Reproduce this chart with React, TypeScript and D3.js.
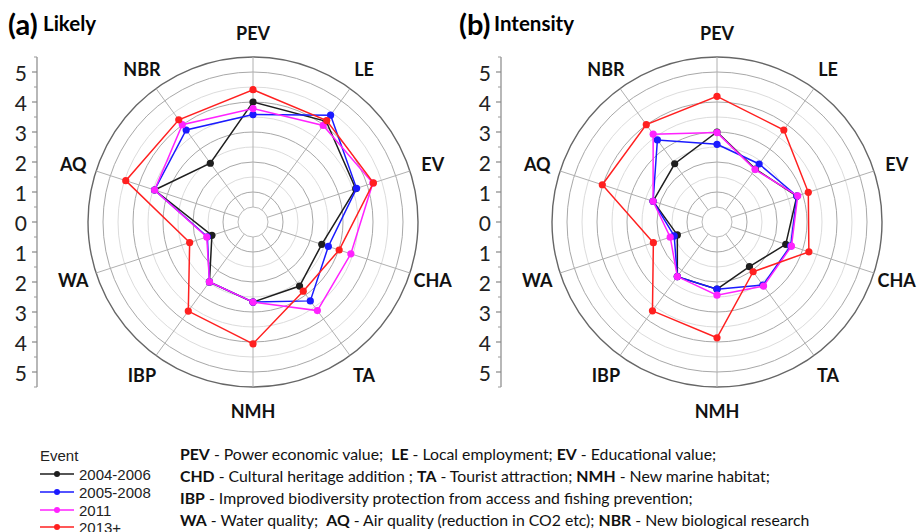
import * as d3 from "d3";

const categories = ["PEV", "LE", "EV", "CHA", "TA", "NMH", "IBP", "WA", "AQ", "NBR"];
const events = ["2004-2006", "2005-2008", "2011", "2013+"];
const eventColors = ["#1e1e1e", "#1a1aff", "#ff22ff", "#ff2020"];

// (a) Likely
const likely2004 = [4.0, 4.15, 3.6, 2.41, 2.64, 2.67, 2.47, 1.44, 3.45, 2.42];
const likely2005 = [3.58, 4.4, 3.63, 2.64, 3.25, 2.67, 2.47, 1.6, 3.45, 3.79];
const likely2011 = [3.78, 3.98, 4.2, 3.43, 3.65, 2.67, 2.47, 1.62, 3.45, 4.01];
const likely2013 = [4.41, 4.18, 4.22, 3.02, 2.85, 4.06, 3.67, 2.22, 4.46, 4.21];

// (b) Intensity
const intensity2004 = [3.0, 2.18, 2.8, 2.41, 1.84, 2.24, 2.25, 1.39, 2.24, 2.4];
const intensity2005 = [2.59, 2.39, 2.8, 2.58, 2.6, 2.24, 2.25, 1.5, 2.24, 3.38];
const intensity2011 = [2.98, 2.16, 2.83, 2.61, 2.64, 2.44, 2.25, 1.64, 2.24, 3.62];
const intensity2013 = [4.19, 3.79, 3.2, 3.22, 2.05, 3.86, 3.66, 2.23, 4.02, 4.01];

const axisTicks = [-5, -4, -3, -2, -1, 0, 1, 2, 3, 4, 5];

const notes: [string, string][][] = [
  [["PEV", " - Power economic value;  "], ["LE", " - Local employment; "], ["EV", " - Educational value;"]],
  [["CHD", " - Cultural heritage addition ; "], ["TA", " - Tourist attraction; "], ["NMH", " - New marine habitat;"]],
  [["IBP", " - Improved biodiversity protection from access and fishing prevention;"]],
  [["WA", " - Water quality;  "], ["AQ", " - Air quality (reduction in CO2 etc); "], ["NBR", " - New biological research"]],
];

const R = 165;
const rScale = d3.scaleLinear().domain([0, 5.5]).range([0, R]);
const angle = d3
  .scaleLinear()
  .domain([0, categories.length])
  .range([0, 2 * Math.PI]);

function Radar({
  cx,
  cy,
  titleX,
  tag,
  title,
  series,
}: {
  cx: number;
  cy: number;
  titleX: number;
  tag: string;
  title: string;
  series: number[][];
}) {
  const rings = d3.range(0.5, 5.51, 0.5);
  const line = d3
    .lineRadial<number>()
    .angle((_, i) => angle(i))
    .radius((d) => rScale(d))
    .curve(d3.curveLinearClosed);

  const yAxis = d3.scaleLinear().domain([-5.5, 5.5]).range([cy + R, cy - R]);
  const axisX = cx - 216;
  const minor = d3.range(-5.5, 5.51, 0.5).filter((v) => !Number.isInteger(v));

  return (
    <g>
      <text x={titleX} y={35} fontFamily="Lato" fontWeight="bold" fontSize={29}>
        {tag}
      </text>
      <text x={titleX + 35} y={31} fontFamily="Lato" fontWeight="bold" fontSize={20.5}>
        {title}
      </text>

      {/* left value axis */}
      <line x1={axisX} x2={axisX} y1={yAxis(5.5)} y2={yAxis(-5.5)} stroke="#888" strokeWidth={1.2} />
      {axisTicks.map((t) => (
        <g key={t}>
          <line x1={axisX - 5} x2={axisX} y1={yAxis(t)} y2={yAxis(t)} stroke="#888" strokeWidth={1.2} />
          <text
            x={axisX - 10}
            y={yAxis(t)}
            textAnchor="end"
            dominantBaseline="central"
            fontFamily="Lato"
            fontSize={21}
            fill="#222"
          >
            {Math.abs(t)}
          </text>
        </g>
      ))}
      {minor.map((t) => (
        <line key={t} x1={axisX - 3} x2={axisX} y1={yAxis(t)} y2={yAxis(t)} stroke="#999" strokeWidth={1} />
      ))}

      <g transform={`translate(${cx},${cy})`}>
        {rings.map((v) => (
          <circle
            key={v}
            r={rScale(v)}
            fill="none"
            stroke={v === 5.5 ? "#666" : v === 0.5 ? "#bbb" : Number.isInteger(v) ? "#a8a8a8" : "#dcdcdc"}
            strokeWidth={v === 5.5 ? 1.4 : 1}
          />
        ))}
        {categories.map((c, i) => {
          const a = angle(i);
          const x1 = rScale(0.5) * Math.sin(a);
          const y1 = -rScale(0.5) * Math.cos(a);
          const x2 = R * Math.sin(a);
          const y2 = -R * Math.cos(a);
          const lx = 189 * Math.sin(a);
          const ly = -189 * Math.cos(a);
          return (
            <g key={c}>
              <line x1={x1} y1={y1} x2={x2} y2={y2} stroke="#b0b0b0" strokeWidth={1} />
              <text
                x={lx}
                y={ly}
                textAnchor="middle"
                dominantBaseline="central"
                fontFamily="Lato"
                fontWeight="bold"
                fontSize={18}
                fill="#111"
              >
                {c}
              </text>
            </g>
          );
        })}
        {series.map((vals, si) => (
          <g key={si}>
            <path d={line(vals)!} fill="none" stroke={eventColors[si]} strokeWidth={1.5} />
            {vals.map((v, i) => (
              <circle
                key={i}
                cx={rScale(v) * Math.sin(angle(i))}
                cy={-rScale(v) * Math.cos(angle(i))}
                r={3.6}
                fill={eventColors[si]}
              />
            ))}
          </g>
        ))}
      </g>
    </g>
  );
}

export default function App() {
  const noteRows = [453, 475, 497, 519];
  const legendRows = [474, 492, 510, 527];
  return (
    <svg
      width={921}
      height={532}
      viewBox="0 0 921 532"
      style={{ position: "absolute", left: 0, top: 0, background: "#fff" }}
    >
      <Radar
        cx={253}
        cy={222}
        titleX={8}
        tag="(a)"
        title="Likely"
        series={[likely2004, likely2005, likely2011, likely2013]}
      />
      <Radar
        cx={717}
        cy={222}
        titleX={459}
        tag="(b)"
        title="Intensity"
        series={[intensity2004, intensity2005, intensity2011, intensity2013]}
      />

      {/* legend */}
      <text x={40} y={455} dominantBaseline="central" fontFamily="Liberation Sans" fontSize={15} fill="#222">
        Event
      </text>
      {events.map((e, i) => (
        <g key={e}>
          <line x1={40} x2={74} y1={legendRows[i]} y2={legendRows[i]} stroke={eventColors[i]} strokeWidth={1.5} />
          <circle cx={57} cy={legendRows[i]} r={3} fill={eventColors[i]} />
          <text
            x={79}
            y={legendRows[i]}
            dominantBaseline="central"
            fontFamily="Liberation Sans"
            fontSize={15}
            fill="#222"
          >
            {e}
          </text>
        </g>
      ))}

      {/* abbreviation notes */}
      {notes.map((row, ri) => (
        <text
          key={ri}
          x={180}
          y={noteRows[ri]}
          dominantBaseline="central"
          fontFamily="Lato"
          fontSize={15.8}
          fill="#111"
        >
          {row.map(([abbr, desc], k) => (
            <tspan key={k}>
              <tspan fontWeight="bold">{abbr}</tspan>
              <tspan xmlSpace="preserve">{desc}</tspan>
            </tspan>
          ))}
        </text>
      ))}
    </svg>
  );
}
